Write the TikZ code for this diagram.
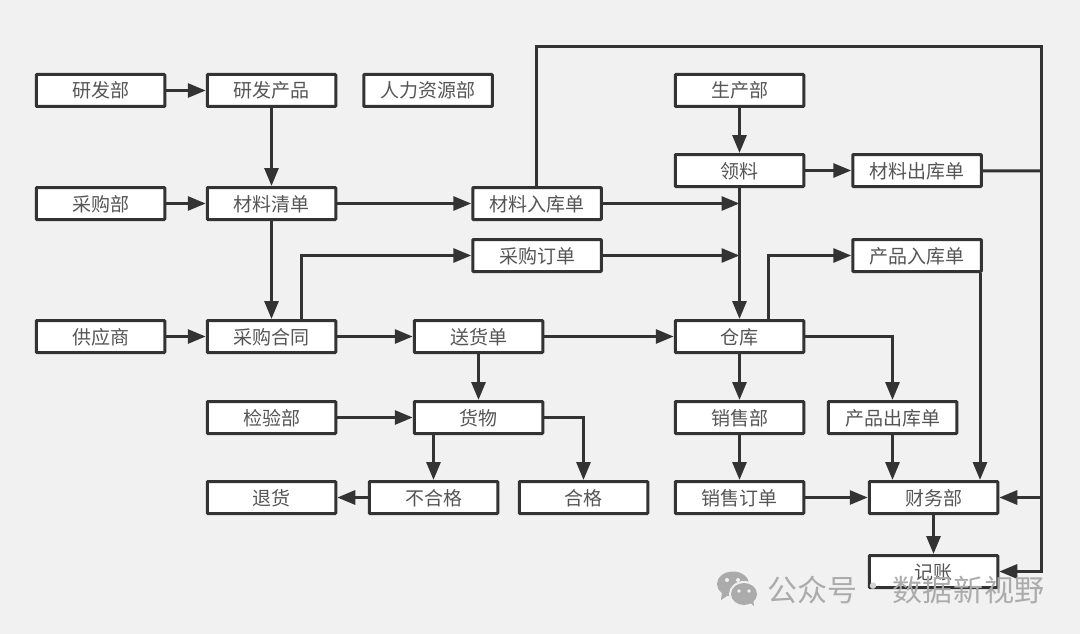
\documentclass[tikz,border=0pt]{standalone}
\usepackage{fontspec}
\setmainfont{Noto Sans CJK SC}
\usetikzlibrary{arrows.meta,calc}
\definecolor{bgc}{HTML}{F1F1F1}
\definecolor{ink}{HTML}{333333}
\definecolor{txt}{HTML}{555555}
\definecolor{wm}{HTML}{ABABAB}
\definecolor{wmdot}{HTML}{D4D4D4}
\tikzset{
  box/.style={draw=ink,line width=3pt,fill=white,rounded corners=0.8pt,minimum width=128.5pt,minimum height=32pt,inner sep=0pt,text=txt,font=\fontsize{19}{20}\selectfont,text height=17pt,text depth=2pt},
  conn/.style={draw=ink,line width=3pt,-{Triangle[length=18pt,width=14pt]}},
  plain/.style={draw=ink,line width=3pt},
  wmt/.style={text=wm,inner sep=0pt,font=\fontsize{30}{32}\selectfont}
}
\begin{document}
\begin{tikzpicture}[x=1pt,y=-1pt]
\path[use as bounding box,fill=bgc] (0,0) rectangle (1080,634);
\foreach \n/\x/\y/\t in {
 yfb/100.5/90.5/研发部, yfcp/271.5/90.5/研发产品, rl/428/90.5/人力资源部, scb/739.5/90.5/生产部,
 ll/739.5/170.5/领料, clck/917/170.5/材料出库单,
 cgb/100.5/203.5/采购部, clqd/271.5/203.5/材料清单, clrk/537/203.5/材料入库单,
 cgdd/537/255.5/采购订单, cprk/917/255.5/产品入库单,
 gys/100.5/336.5/供应商, cght/271.5/336.5/采购合同, shd/478.5/336.5/送货单, ck/739.5/336.5/仓库,
 jyb/271.5/417.5/检验部, hw/478.5/417.5/货物, xsb/739.5/417.5/销售部, cpck/892.5/417.5/产品出库单,
 th/271.5/497.5/退货, bhg/433.5/497.5/不合格, hg/583.5/497.5/合格, xsdd/739.5/497.5/销售订单,
 cwb/933.5/497.5/财务部, jz/933.5/571.5/记账}
 {\node[box] (\n) at (\x,\y) {\t};}
% straight connectors
\draw[conn] (yfb) -- (yfcp);
\draw[conn] (yfcp) -- (clqd);
\draw[conn] (cgb) -- (clqd);
\draw[conn] (clqd) -- (clrk);
\draw[conn] (clqd) -- (cght);
\draw[conn] (gys) -- (cght);
\draw[conn] (cght) -- (shd);
\draw[conn] (shd) -- (ck);
\draw[conn] (shd) -- (hw);
\draw[conn] (jyb) -- (hw);
\draw[conn] (bhg) -- (th);
\draw[conn] (scb) -- (ll);
\draw[conn] (ll) -- (clck);
\draw[conn] (ll) -- (ck);
\draw[conn] (ck) -- (xsb);
\draw[conn] (xsb) -- (xsdd);
\draw[conn] (xsdd) -- (cwb);
\draw[conn] (cwb) -- (jz);
\draw[conn] (cpck) -- (cwb.north -| cpck);
% into the vertical trunk under 领料
\draw[conn] (clrk) -- (clrk -| ll.south);
\draw[conn] (cgdd) -- (cgdd -| ll.south);
% elbows
\draw[conn] ([xshift=29.5pt]cght.north) |- (cgdd);
\draw[conn] ([xshift=28.5pt]ck.north) |- (cprk);
\draw[conn] (ck) -| (cpck);
\draw[conn] (hw) -| (hg);
\draw[conn] (hw.south -| bhg) -- (bhg);
\draw[conn] (cprk.south -| 980,0) -- (cwb.north -| 980,0);
% long return line
\coordinate (top1) at (536,47);
\coordinate (top2) at (1041,47);
\coordinate (tr1) at (1041,171);
\draw[conn] (clrk.north -| top1) -- (top1) -- (top2) -- (jz -| top2) -- (jz);
\draw[plain] (clck) -- (tr1);
\draw[conn] (cwb -| top2) -- (cwb);
% watermark (drawn directly)
\fill[wm] (733,584) ellipse (16pt and 12.5pt);
\fill[wm] (722,592) -- (721,600) -- (730,594) -- cycle;
\fill[bgc] (744,594) ellipse (15pt and 13pt);
\fill[wm] (744,594) ellipse (13pt and 11pt);
\fill[wm] (749,602) -- (754,606) -- (753,598) -- cycle;
\fill[bgc] (727,580) circle (2pt) (738,580) circle (2pt) (739,591) circle (1.8pt) (749,591) circle (1.8pt);
\node[wmt] (wa) at (812,590.5) {公众号};
\node[wmt,text=wmdot] (wd) at (873,590.5) {·};
\node[wmt] (wb) at (968.5,590.5) {\addfontfeature{LetterSpace=2}数据新视野};
\end{tikzpicture}
\end{document}
